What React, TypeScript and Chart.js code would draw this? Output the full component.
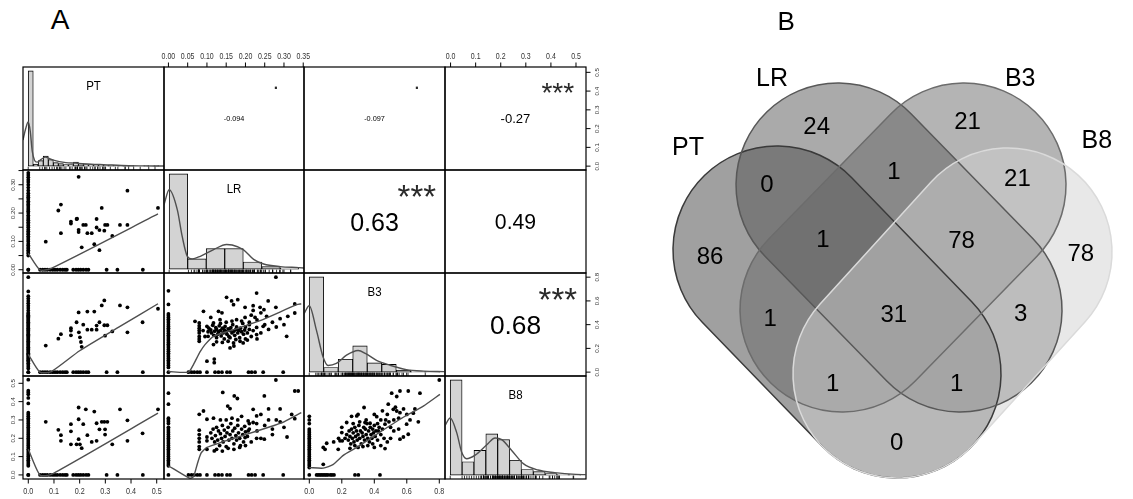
import React, { useEffect, useRef } from 'react';
import { Chart, registerables } from 'chart.js';

Chart.register(...registerables);

const FONT = '"Liberation Sans", Arial, Helvetica, sans-serif';
type Pt = [number, number];

// ===================== DATA =====================
const traitNames = ['PT', 'LR', 'B3', 'B8'];

// correlations shown in the upper panels (row, col order) and their significance marks
const corValues = [-0.094, -0.097, -0.27, 0.63, 0.49, 0.68];
const corStars = ['.', '.', '***', '***', '', '***'];

// histogram breaks and counts (diagonal)
const ptBreaks = [0, 0.02, 0.04, 0.06, 0.08, 0.1, 0.12, 0.14, 0.16, 0.18, 0.2, 0.22, 0.24, 0.26, 0.28, 0.3, 0.32, 0.34, 0.36, 0.38, 0.4, 0.42, 0.44, 0.46, 0.48, 0.5, 0.52];
const ptCounts = [190, 4, 11, 20, 13, 7, 5, 3, 3, 8, 5, 3, 3, 2, 2, 1, 2, 1, 1, 1, 1, 0, 0, 1, 0, 1];
const lrBreaks = [0, 0.05, 0.1, 0.15, 0.2, 0.25, 0.3, 0.35];
const lrCounts = [185, 20, 40, 40, 14, 5, 2];
const b3Breaks = [0, 0.1, 0.2, 0.3, 0.4, 0.5, 0.6, 0.7, 0.8, 0.9];
const b3Counts = [185, 9, 25, 51, 18, 15, 4, 1, 1];
const b8Breaks = [0, 0.05, 0.1, 0.15, 0.2, 0.25, 0.3, 0.35, 0.4, 0.45, 0.5, 0.55];
const b8Counts = [185, 26, 48, 80, 69, 29, 11, 7, 3, 1, 1];

// kernel density curves (in histogram count units)
const ptDensity: Pt[] = [[-0.021, 52], [-0.01, 75], [0.0, 88], [0.008, 70], [0.016, 30], [0.025, 12], [0.035, 8], [0.05, 13], [0.068, 18], [0.1, 12], [0.15, 7], [0.188, 6], [0.25, 4], [0.3, 3], [0.4, 1], [0.5, 0.5], [0.55, 0.2]];
const lrDensity: Pt[] = [[-0.014, 125], [0.0, 154], [0.022, 115], [0.035, 64], [0.049, 25], [0.062, 20], [0.084, 25], [0.12, 38], [0.155, 48], [0.17, 47], [0.2, 38], [0.228, 19], [0.255, 10], [0.3, 5], [0.35, 3], [0.37, 2]];
const b3Density: Pt[] = [[-0.036, 113], [0.0, 129], [0.05, 81], [0.095, 30], [0.13, 13], [0.187, 17], [0.257, 33], [0.337, 42], [0.39, 36], [0.464, 23], [0.557, 13.5], [0.67, 5], [0.79, 2], [0.93, 1]];
const b8Density: Pt[] = [[-0.022, 96], [0.0, 111], [0.027, 83], [0.048, 45], [0.069, 32], [0.105, 39], [0.154, 59], [0.189, 72], [0.217, 69], [0.259, 48], [0.308, 22.5], [0.37, 10], [0.44, 5], [0.53, 1.5], [0.57, 1]];

// samples lying on the zero lines
const ptZeroLR = [0, 0.05, 0.057, 0.063, 0.069, 0.075, 0.08, 0.086, 0.092, 0.1, 0.106, 0.112, 0.118, 0.125, 0.13, 0.136, 0.142, 0.15, 0.156, 0.162, 0.168, 0.175, 0.18, 0.186, 0.192, 0.2, 0.206, 0.212, 0.218, 0.225, 0.23, 0.236, 0.242, 0.25, 0.256, 0.262, 0.27, 0.28, 0.29, 0.3, 0.31, 0.318, 0.326, 0.334, 0.342];
const ptZeroB3 = [0, 0.03, 0.045, 0.06, 0.075, 0.09, 0.1, 0.11, 0.12, 0.13, 0.14, 0.15, 0.16, 0.17, 0.18, 0.19, 0.2, 0.21, 0.22, 0.23, 0.24, 0.25, 0.26, 0.27, 0.28, 0.29, 0.3, 0.31, 0.32, 0.33, 0.34, 0.35, 0.36, 0.37, 0.38, 0.39, 0.4, 0.41, 0.42, 0.43, 0.44, 0.45, 0.46, 0.47, 0.48, 0.49, 0.5, 0.52, 0.54, 0.56, 0.58, 0.6, 0.62, 0.64, 0.68, 0.8];
const ptZeroB8 = [0, 0.05, 0.06, 0.07, 0.08, 0.09, 0.1, 0.11, 0.12, 0.13, 0.14, 0.15, 0.16, 0.17, 0.18, 0.19, 0.2, 0.21, 0.22, 0.23, 0.24, 0.25, 0.26, 0.27, 0.28, 0.29, 0.3, 0.31, 0.32, 0.33, 0.34, 0.39, 0.42, 0.44, 0.45, 0.46, 0.52];
const ptAtZero = [0, 0.046, 0.056, 0.065, 0.074, 0.085, 0.095, 0.104, 0.113, 0.124, 0.134, 0.143, 0.15, 0.175, 0.186, 0.195, 0.204, 0.214, 0.225, 0.234, 0.305, 0.347, 0.446];
const lrZeroB3 = [0, 0.04, 0.055, 0.07, 0.085, 0.1, 0.115, 0.13, 0.145, 0.16, 0.175, 0.19, 0.205, 0.22, 0.235, 0.25, 0.265, 0.28, 0.295, 0.31, 0.325, 0.34, 0.355, 0.37, 0.385, 0.4, 0.415, 0.43, 0.445, 0.46, 0.475, 0.49, 0.57, 0.685];
const lrZeroB8 = [0, 0.05, 0.06, 0.07, 0.08, 0.09, 0.1, 0.11, 0.12, 0.13, 0.14, 0.15, 0.16, 0.17, 0.18, 0.19, 0.2, 0.21, 0.22, 0.23, 0.24, 0.25, 0.26, 0.28, 0.29, 0.3, 0.31, 0.386, 0.446];
const lrAtZero = [0.052, 0.06, 0.067, 0.075, 0.082, 0.1, 0.121, 0.13, 0.139, 0.152, 0.16, 0.208, 0.216, 0.225, 0.246, 0.298];
const b3ZeroB8 = [0, 0.04, 0.05, 0.06, 0.07, 0.08, 0.09, 0.1, 0.11, 0.12, 0.13, 0.14, 0.15, 0.16, 0.17, 0.18, 0.19, 0.2, 0.21, 0.22, 0.23, 0.24, 0.25, 0.28, 0.3, 0.32];
const b3AtZero = [0.045, 0.055, 0.065, 0.075, 0.085, 0.095, 0.105, 0.115, 0.13, 0.14, 0.152, 0.281, 0.302, 0.435];

// remaining scatter points (x trait, y trait)
const ptLrCloud: Pt[] = [[0.068, 0.099], [0.117, 0.209], [0.127, 0.23], [0.127, 0.129], [0.166, 0.17], [0.166, 0.163], [0.188, 0.179], [0.196, 0.328], [0.19, 0.18], [0.196, 0.141], [0.196, 0.133], [0.208, 0.079], [0.214, 0.158], [0.224, 0.158], [0.23, 0.129], [0.247, 0.129], [0.257, 0.09], [0.266, 0.179], [0.266, 0.149], [0.277, 0.14], [0.277, 0.069], [0.286, 0.218], [0.296, 0.138], [0.299, 0.158], [0.308, 0.158], [0.327, 0.119], [0.357, 0.158], [0.386, 0.158], [0.386, 0.279], [0.505, 0.218]];
const ptB3Cloud: Pt[] = [[0.068, 0.224], [0.117, 0.282], [0.127, 0.32], [0.166, 0.37], [0.166, 0.31], [0.166, 0.35], [0.188, 0.42], [0.196, 0.503], [0.197, 0.335], [0.201, 0.293], [0.205, 0.254], [0.208, 0.213], [0.214, 0.4], [0.23, 0.51], [0.23, 0.358], [0.247, 0.358], [0.257, 0.51], [0.266, 0.358], [0.266, 0.392], [0.277, 0.42], [0.286, 0.562], [0.296, 0.604], [0.296, 0.395], [0.308, 0.395], [0.299, 0.307], [0.327, 0.343], [0.357, 0.562], [0.386, 0.546], [0.386, 0.335], [0.445, 0.42], [0.505, 0.534]];
const ptB8Cloud: Pt[] = [[0.068, 0.29], [0.117, 0.246], [0.127, 0.217], [0.127, 0.186], [0.166, 0.277], [0.166, 0.238], [0.166, 0.167], [0.188, 0.167], [0.196, 0.368], [0.196, 0.304], [0.196, 0.195], [0.201, 0.167], [0.208, 0.146], [0.214, 0.277], [0.224, 0.358], [0.23, 0.217], [0.247, 0.18], [0.257, 0.346], [0.266, 0.282], [0.266, 0.186], [0.277, 0.249], [0.286, 0.29], [0.296, 0.29], [0.299, 0.249], [0.299, 0.22], [0.308, 0.29], [0.327, 0.167], [0.357, 0.358], [0.386, 0.298], [0.386, 0.186], [0.445, 0.227], [0.505, 0.358]];
const lrB3Cloud: Pt[] = [
  [0.279, 0.8], [0.151, 0.63], [0.164, 0.6], [0.18, 0.61], [0.169, 0.568], [0.229, 0.666], [0.259, 0.6], [0.279, 0.546], [0.328, 0.574], [0.328, 0.498], [0.091, 0.512], [0.13, 0.512], [0.199, 0.546], [0.22, 0.56], [0.22, 0.52], [0.238, 0.546], [0.248, 0.526], [0.199, 0.461], [0.139, 0.5], [0.11, 0.461], [0.225, 0.461], [0.255, 0.47], [0.307, 0.302], [0.069, 0.428],
  [0.08, 0.414], [0.08, 0.39], [0.08, 0.37], [0.08, 0.35], [0.08, 0.33], [0.08, 0.3], [0.08, 0.28], [0.08, 0.26],
  [0.1, 0.092], [0.119, 0.11], [0.119, 0.08], [0.117, 0.232], [0.16, 0.204], [0.169, 0.246], [0.186, 0.26], [0.194, 0.246], [0.229, 0.316], [0.229, 0.377], [0.246, 0.386], [0.177, 0.442], [0.134, 0.442], [0.117, 0.414], [0.1, 0.386], [0.103, 0.34], [0.103, 0.302],
  [0.105, 0.37], [0.11, 0.355], [0.112, 0.33], [0.115, 0.395], [0.118, 0.31], [0.12, 0.345], [0.123, 0.375], [0.125, 0.36], [0.128, 0.32], [0.13, 0.34], [0.132, 0.39], [0.135, 0.35], [0.137, 0.305], [0.14, 0.37], [0.142, 0.33], [0.145, 0.355], [0.147, 0.385], [0.15, 0.34], [0.152, 0.32], [0.155, 0.365], [0.157, 0.3], [0.16, 0.35], [0.162, 0.375], [0.165, 0.33], [0.167, 0.4], [0.17, 0.345], [0.172, 0.31], [0.175, 0.36], [0.177, 0.38], [0.18, 0.33], [0.182, 0.35], [0.185, 0.29], [0.187, 0.37], [0.19, 0.34], [0.193, 0.41], [0.195, 0.32], [0.198, 0.355], [0.2, 0.38], [0.205, 0.33], [0.21, 0.36], [0.215, 0.3], [0.145, 0.28], [0.16, 0.29], [0.175, 0.275], [0.125, 0.29], [0.135, 0.41], [0.15, 0.42], [0.165, 0.43], [0.19, 0.43], [0.21, 0.4], [0.14, 0.25], [0.155, 0.26], [0.2, 0.28], [0.125, 0.255], [0.17, 0.22],
  [0.21, 0.42], [0.22, 0.35], [0.23, 0.44], [0.24, 0.33], [0.25, 0.4], [0.26, 0.36], [0.27, 0.42], [0.28, 0.38], [0.29, 0.45], [0.3, 0.4], [0.31, 0.47], [0.215, 0.48], [0.24, 0.5], [0.205, 0.27], [0.23, 0.28], [0.095, 0.3], [0.09, 0.35]
];
const lrB8Cloud: Pt[] = [
  [0.279, 0.518], [0.328, 0.458], [0.337, 0.458], [0.328, 0.307], [0.308, 0.207], [0.249, 0.431], [0.249, 0.195], [0.22, 0.358], [0.22, 0.286], [0.229, 0.322], [0.229, 0.2], [0.229, 0.28], [0.207, 0.295], [0.207, 0.24], [0.199, 0.204], [0.179, 0.417], [0.16, 0.362], [0.154, 0.376], [0.141, 0.45], [0.171, 0.431], [0.1, 0.304], [0.08, 0.331], [0.091, 0.349], [0.117, 0.31],
  [0.08, 0.244], [0.08, 0.22], [0.08, 0.2], [0.08, 0.18], [0.08, 0.155], [0.08, 0.14], [0.1, 0.207], [0.1, 0.186], [0.1, 0.14], [0.119, 0.131], [0.26, 0.3], [0.27, 0.25], [0.24, 0.2], [0.29, 0.29],
  [0.11, 0.23], [0.113, 0.2], [0.116, 0.25], [0.12, 0.18], [0.122, 0.215], [0.125, 0.26], [0.128, 0.19], [0.13, 0.24], [0.133, 0.16], [0.135, 0.225], [0.138, 0.2], [0.14, 0.27], [0.142, 0.18], [0.145, 0.245], [0.147, 0.21], [0.15, 0.155], [0.152, 0.23], [0.155, 0.26], [0.157, 0.19], [0.16, 0.22], [0.162, 0.28], [0.165, 0.2], [0.167, 0.24], [0.17, 0.17], [0.172, 0.255], [0.175, 0.215], [0.177, 0.19], [0.18, 0.27], [0.182, 0.23], [0.185, 0.2], [0.187, 0.16], [0.19, 0.25], [0.193, 0.22], [0.195, 0.18], [0.198, 0.265], [0.2, 0.235], [0.205, 0.21], [0.21, 0.25], [0.125, 0.14], [0.14, 0.13], [0.155, 0.145], [0.17, 0.14], [0.185, 0.15], [0.2, 0.16], [0.215, 0.18], [0.135, 0.3], [0.15, 0.3], [0.165, 0.31], [0.18, 0.3], [0.19, 0.32],
  [0.21, 0.28], [0.23, 0.24], [0.25, 0.27], [0.27, 0.22], [0.28, 0.3], [0.3, 0.26], [0.32, 0.33], [0.24, 0.33], [0.26, 0.36], [0.29, 0.36]
];
const b3B8Cloud: Pt[] = [
  [0.8, 0.518], [0.507, 0.446], [0.558, 0.458], [0.609, 0.458], [0.538, 0.428], [0.681, 0.446], [0.486, 0.386], [0.337, 0.368], [0.517, 0.358], [0.538, 0.349], [0.558, 0.34], [0.292, 0.322], [0.415, 0.318], [0.64, 0.337], [0.671, 0.29], [0.599, 0.277], [0.609, 0.222], [0.558, 0.195], [0.579, 0.207], [0.23, 0.286], [0.343, 0.286], [0.374, 0.282], [0.466, 0.277], [0.425, 0.24], [0.466, 0.144], [0.107, 0.173], [0.086, 0.15], [0.097, 0.14], [0.178, 0.14], [0.086, 0.058], [0.189, 0.186], [0.2, 0.231], [0.203, 0.186],
  [0.22, 0.2], [0.23, 0.22], [0.24, 0.19], [0.245, 0.24], [0.25, 0.21], [0.255, 0.17], [0.26, 0.25], [0.265, 0.2], [0.27, 0.23], [0.275, 0.18], [0.28, 0.26], [0.285, 0.21], [0.29, 0.24], [0.295, 0.19], [0.3, 0.22], [0.305, 0.27], [0.31, 0.2], [0.315, 0.24], [0.32, 0.17], [0.325, 0.23], [0.33, 0.21], [0.335, 0.26], [0.34, 0.19], [0.345, 0.25], [0.35, 0.22], [0.355, 0.28], [0.36, 0.2], [0.365, 0.24], [0.37, 0.18], [0.375, 0.26], [0.38, 0.22], [0.385, 0.2], [0.39, 0.25], [0.395, 0.23], [0.4, 0.27], [0.405, 0.21], [0.41, 0.24], [0.42, 0.19], [0.43, 0.26], [0.44, 0.22], [0.45, 0.25], [0.46, 0.2], [0.47, 0.3], [0.28, 0.16], [0.3, 0.15], [0.33, 0.155], [0.36, 0.16], [0.39, 0.17], [0.42, 0.28], [0.35, 0.3], [0.31, 0.29], [0.27, 0.28], [0.25, 0.145], [0.4, 0.15], [0.44, 0.16], [0.5, 0.26], [0.52, 0.3], [0.55, 0.31], [0.6, 0.33], [0.48, 0.33], [0.45, 0.35], [0.4, 0.33],
  [0.5, 0.2], [0.52, 0.24], [0.48, 0.18], [0.55, 0.25], [0.62, 0.3], [0.65, 0.36], [0.58, 0.36], [0.3, 0.33], [0.26, 0.32], [0.2, 0.26], [0.18, 0.2], [0.15, 0.18], [0.49, 0.29], [0.53, 0.37], [0.44, 0.3]
];

// smoothers (lowess) for the lower panels
const ptLrSmooth: Pt[] = [[0, 0.058], [0.045, 0], [0.085, 0.003], [0.505, 0.197]];
const ptB3Smooth: Pt[] = [[0, 0.15], [0.045, 0], [0.09, 0.005], [0.2, 0.18], [0.357, 0.385], [0.505, 0.576]];
const ptB8Smooth: Pt[] = [[0, 0.14], [0.045, 0], [0.09, 0.003], [0.505, 0.337]];
const lrB3Smooth: Pt[] = [[0, 0.005], [0.052, 0], [0.065, 0.064], [0.082, 0.17], [0.095, 0.232], [0.117, 0.302], [0.169, 0.358], [0.238, 0.434], [0.333, 0.568], [0.345, 0.575]];
const lrB8Smooth: Pt[] = [[0, 0.05], [0.055, -0.018], [0.065, -0.01], [0.075, 0.06], [0.085, 0.12], [0.1, 0.15], [0.14, 0.18], [0.2, 0.22], [0.26, 0.26], [0.3, 0.29], [0.345, 0.34]];
const b3B8Smooth: Pt[] = [[0, 0.04], [0.086, 0.037], [0.148, 0.058], [0.209, 0.107], [0.292, 0.15], [0.415, 0.222], [0.558, 0.304], [0.702, 0.376], [0.804, 0.44]];

// axis ticks and labels
const ptTicks = [0, 0.1, 0.2, 0.3, 0.4, 0.5];
const ptTickLabels = ['0.0', '0.1', '0.2', '0.3', '0.4', '0.5'];
const lrTicks = [0, 0.05, 0.1, 0.15, 0.2, 0.25, 0.3, 0.35];
const lrTopLabels = ['0.00', '0.05', '0.10', '0.15', '0.20', '0.25', '0.30', '0.35'];
const lrLeftLabels = ['0.00', '', '0.10', '', '0.20', '', '0.30', ''];
const b3Ticks = [0, 0.2, 0.4, 0.6, 0.8];
const b3TickLabels = ['0.0', '0.2', '0.4', '0.6', '0.8'];
const b8Ticks = [0, 0.1, 0.2, 0.3, 0.4, 0.5];
const b8TickLabels = ['0.0', '0.1', '0.2', '0.3', '0.4', '0.5'];

// Venn diagram
const vennSets = ['PT', 'LR', 'B3', 'B8'];
const vennRegions = ['PT', 'LR', 'B3', 'B8', 'PT&LR', 'LR&B3', 'B3&B8', 'PT&LR&B3', 'LR&B3&B8', 'PT&B3', 'ALL', 'LR&B8', 'PT&LR&B8', 'PT&B3&B8', 'PT&B8'];
const vennCounts = [86, 24, 21, 78, 0, 1, 21, 1, 78, 1, 31, 3, 1, 1, 0];

// ===================== LAYOUT =====================
const M = 30;
const colX = [23, 164, 304, 445, 586];
const rowY = [67, 170, 273, 376, 479];
const ranges: Pt[] = [[-0.0206, 0.5284], [-0.0115, 0.352], [-0.0326, 0.8351], [-0.0222, 0.5399]];

const VW = 493, VH = 499, VS = 470; // venn canvas and unit size
const vennShapes = [
  { p1: [0.2915, 0.5298], p2: [0.5468, 0.266], r: 0.2213, fill: 'rgba(65,65,65,0.5)', stroke: '#3a3a3a' },
  { p1: [0.4213, 0.6681], p2: [0.6809, 0.4021], r: 0.217, fill: 'rgba(85,85,85,0.5)', stroke: '#585858' },
  { p1: [0.6894, 0.6681], p2: [0.4298, 0.4021], r: 0.217, fill: 'rgba(105,105,105,0.5)', stroke: '#6c6c6c' },
  { p1: [0.783, 0.5255], p2: [0.5468, 0.266], r: 0.2213, fill: 'rgba(209,209,209,0.5)', stroke: '#dadada' },
];
const vennAnchors: Pt[] = [[0.149, 0.519], [0.376, 0.794], [0.697, 0.805], [0.938, 0.524], [0.27, 0.672], [0.54, 0.7], [0.803, 0.683], [0.389, 0.555], [0.684, 0.553], [0.277, 0.386], [0.54, 0.394], [0.81, 0.396], [0.41, 0.247], [0.674, 0.247], [0.546, 0.122]];
const vennSetLabelPos: Pt[] = [[0.102, 0.751], [0.281, 0.898], [0.809, 0.898], [0.972, 0.766]];

// ===================== HELPERS =====================
function drawText(ctx: CanvasRenderingContext2D, text: string, x: number, y: number, size: number, o: { sy?: number; rot?: number; color?: string } = {}) {
  ctx.save();
  ctx.translate(x, y);
  if (o.rot) ctx.rotate(o.rot);
  if (o.sy) ctx.scale(1, o.sy);
  ctx.font = `${size}px ${FONT}`;
  ctx.fillStyle = o.color || '#000';
  ctx.textAlign = 'center';
  ctx.textBaseline = 'alphabetic';
  const m = ctx.measureText(text);
  const dy = (m.actualBoundingBoxAscent - m.actualBoundingBoxDescent) / 2;
  ctx.fillText(text, 0, dy);
  ctx.restore();
}

type Axis = { side: 'top' | 'bottom' | 'left' | 'right'; ticks: number[]; labels: string[] };
type Panel = {
  key: string; row: number; col: number; kind: 'hist' | 'scatter' | 'cor';
  x: Pt; y: Pt; datasets: any[]; axes: Axis[];
  title?: string; cor?: { value: number; stars: string }; rug?: number[];
};

const pts = (a: Pt[]) => a.map(([x, y]) => ({ x, y }));

function scatterSets(cloud: Pt[], zeroCol: number[], atZero: number[], smooth: Pt[]) {
  const all = [
    ...cloud.map(([x, y]) => ({ x, y })),
    ...zeroCol.map((v) => ({ x: 0, y: v })),
    ...atZero.map((v) => ({ x: v, y: 0 })),
  ];
  return [
    { type: 'line', data: pts(smooth), borderColor: '#4f4f4f', borderWidth: 1.4, pointRadius: 0, tension: 0.2, fill: false },
    { type: 'scatter', data: all, pointRadius: 1.9, pointBackgroundColor: '#000', backgroundColor: '#000', pointBorderWidth: 0, borderWidth: 0 },
  ];
}

function histPanel(row: number, name: string, breaks: number[], counts: number[], density: Pt[], rug: number[]): Panel {
  const lo = breaks[0], hi = breaks[breaks.length - 1];
  const ext = (hi - lo) * 0.04;
  const mx = Math.max(...counts);
  const bars = counts.map((c, i) => ({ x: (breaks[i] + breaks[i + 1]) / 2, y: c }));
  return {
    key: 'h' + row, row, col: row, kind: 'hist', x: [lo - ext, hi + ext], y: [-0.04 * mx, 1.04 * mx],
    title: name, rug, axes: [],
    datasets: [
      { type: 'line', data: pts(density), borderColor: '#4f4f4f', borderWidth: 1.4, pointRadius: 0, cubicInterpolationMode: 'monotone', fill: false },
      { type: 'bar', data: bars, backgroundColor: '#d3d3d3', borderColor: '#000', borderWidth: 0.9, borderSkipped: false, barPercentage: 1, categoryPercentage: 1, grouped: false },
    ],
  };
}

const ptRug = [...ptAtZero, ...ptLrCloud.map((p) => p[0]), 0.4, 0.42, 0.48];
const lrRug = [0, ...lrAtZero, ...lrB3Cloud.map((p) => p[0])];
const b3Rug = [0, ...b3AtZero, ...b3B8Cloud.map((p) => p[0])];
const b8Rug = [...ptZeroB8, ...lrB8Cloud.map((p) => p[1])];

const corPanel = (i: number, row: number, col: number, axes: Axis[]): Panel => ({
  key: `c${row}${col}`, row, col, kind: 'cor', x: ranges[col], y: ranges[row], datasets: [], axes,
  cor: { value: corValues[i], stars: corStars[i] },
});

const panels: Panel[] = [
  histPanel(0, traitNames[0], ptBreaks, ptCounts, ptDensity, ptRug),
  corPanel(0, 0, 1, [{ side: 'top', ticks: lrTicks, labels: lrTopLabels }]),
  corPanel(1, 0, 2, []),
  corPanel(2, 0, 3, [{ side: 'top', ticks: b8Ticks, labels: b8TickLabels }, { side: 'right', ticks: ptTicks, labels: ptTickLabels }]),
  { key: 's10', row: 1, col: 0, kind: 'scatter', x: ranges[0], y: ranges[1], datasets: scatterSets(ptLrCloud, ptZeroLR, ptAtZero, ptLrSmooth), axes: [{ side: 'left', ticks: lrTicks, labels: lrLeftLabels }] },
  histPanel(1, traitNames[1], lrBreaks, lrCounts, lrDensity, lrRug),
  corPanel(3, 1, 2, []),
  corPanel(4, 1, 3, []),
  { key: 's20', row: 2, col: 0, kind: 'scatter', x: ranges[0], y: ranges[2], datasets: scatterSets(ptB3Cloud, ptZeroB3, ptAtZero, ptB3Smooth), axes: [] },
  { key: 's21', row: 2, col: 1, kind: 'scatter', x: ranges[1], y: ranges[2], datasets: scatterSets(lrB3Cloud, lrZeroB3, lrAtZero, lrB3Smooth), axes: [] },
  histPanel(2, traitNames[2], b3Breaks, b3Counts, b3Density, b3Rug),
  corPanel(5, 2, 3, [{ side: 'right', ticks: b3Ticks, labels: b3TickLabels }]),
  { key: 's30', row: 3, col: 0, kind: 'scatter', x: ranges[0], y: ranges[3], datasets: scatterSets(ptB8Cloud, ptZeroB8, ptAtZero, ptB8Smooth), axes: [{ side: 'left', ticks: b8Ticks, labels: b8TickLabels }, { side: 'bottom', ticks: ptTicks, labels: ptTickLabels }] },
  { key: 's31', row: 3, col: 1, kind: 'scatter', x: ranges[1], y: ranges[3], datasets: scatterSets(lrB8Cloud, lrZeroB8, lrAtZero, lrB8Smooth), axes: [] },
  { key: 's32', row: 3, col: 2, kind: 'scatter', x: ranges[2], y: ranges[3], datasets: scatterSets(b3B8Cloud, b3ZeroB8, b3AtZero, b3B8Smooth), axes: [{ side: 'bottom', ticks: b3Ticks, labels: b3TickLabels }] },
  histPanel(3, traitNames[3], b8Breaks, b8Counts, b8Density, b8Rug),
];

function decorPlugin(p: Panel) {
  return {
    id: 'decor',
    afterDatasetsDraw(chart: any) {
      const ctx: CanvasRenderingContext2D = chart.ctx;
      const ca = chart.chartArea;
      const xs = chart.scales.x, ys = chart.scales.y;
      const w = ca.right - ca.left, h = ca.bottom - ca.top;
      ctx.save();
      if (p.rug) {
        ctx.strokeStyle = '#000';
        ctx.lineWidth = 0.8;
        ctx.beginPath();
        for (const v of p.rug) {
          const px = xs.getPixelForValue(v);
          if (px < ca.left || px > ca.right) continue;
          ctx.moveTo(px, ca.bottom);
          ctx.lineTo(px, ca.bottom - 3.3);
        }
        ctx.stroke();
      }
      ctx.strokeStyle = '#000';
      ctx.lineWidth = 1.2;
      ctx.strokeRect(ca.left, ca.top, w, h);
      for (const a of p.axes) {
        const horiz = a.side === 'top' || a.side === 'bottom';
        const sc = horiz ? xs : ys;
        const ps = a.ticks.map((v) => sc.getPixelForValue(v));
        ctx.strokeStyle = '#000';
        ctx.lineWidth = 1;
        ctx.beginPath();
        ps.forEach((q) => {
          if (a.side === 'top') { ctx.moveTo(q, ca.top); ctx.lineTo(q, ca.top - 4.5); }
          if (a.side === 'bottom') { ctx.moveTo(q, ca.bottom); ctx.lineTo(q, ca.bottom + 4.5); }
          if (a.side === 'left') { ctx.moveTo(ca.left, q); ctx.lineTo(ca.left - 4.5, q); }
          if (a.side === 'right') { ctx.moveTo(ca.right, q); ctx.lineTo(ca.right + 4.5, q); }
        });
        ctx.stroke();
        ps.forEach((q, i) => {
          const t = a.labels[i];
          if (!t) return;
          if (a.side === 'top') drawText(ctx, t, q, ca.top - 11.5, 7, { sy: 1.25, color: '#333' });
          if (a.side === 'bottom') drawText(ctx, t, q, ca.bottom + 11.5, 7.2, { sy: 1.25, color: '#333' });
          if (a.side === 'left') drawText(ctx, t, ca.left - 10.5, q, 6.2, { rot: -Math.PI / 2, color: '#333' });
          if (a.side === 'right') drawText(ctx, t, ca.right + 10.5, q, 6.2, { rot: -Math.PI / 2, color: '#333' });
        });
      }
      if (p.title) drawText(ctx, p.title, (ca.left + ca.right) / 2, ca.top + 18.5, 11.5, { sy: 1.15 });
      if (p.cor) {
        const txt = String(p.cor.value);
        ctx.font = `100px ${FONT}`;
        const em = ctx.measureText(txt).width / 100;
        const size = (52.3 * (Math.abs(p.cor.value) + 0.3)) / em;
        drawText(ctx, txt, ca.left + w / 2, ca.top + h / 2, size);
        if (p.cor.stars) drawText(ctx, p.cor.stars, ca.left + 0.8 * w, ca.bottom - 0.8 * h, 64 / em, { color: '#2a2a2a' });
      }
      ctx.restore();
    },
  };
}

function buildPanel(canvas: HTMLCanvasElement, p: Panel) {
  return new Chart(canvas, {
    type: p.kind === 'hist' ? 'bar' : 'scatter',
    data: { datasets: p.datasets },
    options: {
      animation: false,
      responsive: false,
      maintainAspectRatio: false,
      devicePixelRatio: 1,
      events: [],
      layout: { padding: M },
      plugins: { legend: { display: false }, tooltip: { enabled: false }, title: { display: false } },
      scales: {
        x: { type: 'linear', min: p.x[0], max: p.x[1], display: false, offset: false },
        y: { type: 'linear', min: p.y[0], max: p.y[1], display: false },
      },
    } as any,
    plugins: [decorPlugin(p)],
  } as any);
}

const vennPlugin = {
  id: 'venn',
  beforeDatasetsDraw(chart: any) {
    const ctx: CanvasRenderingContext2D = chart.ctx;
    const xs = chart.scales.x, ys = chart.scales.y;
    const unit = xs.getPixelForValue(1) - xs.getPixelForValue(0);
    const path = (s: any) => {
      const ax = xs.getPixelForValue(s.p1[0]), ay = ys.getPixelForValue(s.p1[1]);
      const bx = xs.getPixelForValue(s.p2[0]), by = ys.getPixelForValue(s.p2[1]);
      const r = s.r * unit;
      const th = Math.atan2(by - ay, bx - ax);
      ctx.beginPath();
      ctx.arc(ax, ay, r, th + Math.PI / 2, th + (3 * Math.PI) / 2);
      ctx.arc(bx, by, r, th - Math.PI / 2, th + Math.PI / 2);
      ctx.closePath();
    };
    ctx.save();
    for (const s of vennShapes) { path(s); ctx.fillStyle = s.fill; ctx.fill(); }
    for (const s of vennShapes) { path(s); ctx.strokeStyle = s.stroke; ctx.lineWidth = 1.5; ctx.stroke(); }
    ctx.restore();
  },
  afterDatasetsDraw(chart: any) {
    const ctx: CanvasRenderingContext2D = chart.ctx;
    const xs = chart.scales.x, ys = chart.scales.y;
    const meta = chart.getDatasetMeta(0);
    meta.data.forEach((el: any, i: number) => {
      drawText(ctx, String(vennCounts[i]), el.x, el.y, 24, { color: '#000' });
    });
    vennSets.forEach((n, i) => {
      drawText(ctx, n, xs.getPixelForValue(vennSetLabelPos[i][0]), ys.getPixelForValue(vennSetLabelPos[i][1]), 25, { color: '#000' });
    });
    drawText(ctx, 'B', xs.getPixelForValue(0.311), ys.getPixelForValue(1.017), 26, { color: '#000' });
  },
};

function buildVenn(canvas: HTMLCanvasElement) {
  return new Chart(canvas, {
    type: 'scatter',
    data: { labels: vennRegions, datasets: [{ data: pts(vennAnchors), pointRadius: 0, borderWidth: 0 }] },
    options: {
      animation: false,
      responsive: false,
      maintainAspectRatio: false,
      devicePixelRatio: 1,
      events: [],
      layout: { padding: 0 },
      plugins: { legend: { display: false }, tooltip: { enabled: false } },
      scales: {
        x: { type: 'linear', min: 0, max: VW / VS, display: false },
        y: { type: 'linear', min: 0, max: VH / VS, display: false },
      },
    } as any,
    plugins: [vennPlugin],
  } as any);
}

function ChartBox(props: { left: number; top: number; width: number; height: number; build: (c: HTMLCanvasElement) => Chart }) {
  const ref = useRef<HTMLCanvasElement>(null);
  useEffect(() => {
    const c = props.build(ref.current!);
    return () => c.destroy();
  }, []);
  return (
    <canvas
      ref={ref}
      width={props.width}
      height={props.height}
      style={{ position: 'absolute', left: props.left, top: props.top, width: props.width, height: props.height }}
    />
  );
}

export default function App() {
  return (
    <div style={{ position: 'absolute', left: 0, top: 0, width: 1133, height: 499, background: '#fff', overflow: 'hidden' }}>
      <div style={{ position: 'absolute', left: 40, top: 6, width: 40, textAlign: 'center', font: `28px ${FONT}`, lineHeight: '28px', color: '#000' }}>A</div>
      {panels.map((p) => {
        const w = colX[p.col + 1] - colX[p.col];
        const h = rowY[p.row + 1] - rowY[p.row];
        return (
          <ChartBox key={p.key} left={colX[p.col] - M} top={rowY[p.row] - M} width={w + 2 * M} height={h + 2 * M} build={(c) => buildPanel(c, p)} />
        );
      })}
      <ChartBox left={640} top={0} width={VW} height={VH} build={buildVenn} />
    </div>
  );
}
